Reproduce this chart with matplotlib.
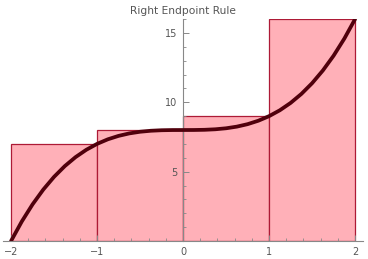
import matplotlib
matplotlib.use('Agg')
import matplotlib.pyplot as plt
from matplotlib.ticker import MultipleLocator

# rectangles (left edge, height at right endpoint)
rect_left = [-2, -1, 0, 1]
rect_height = [7, 8, 9, 16]

# curve points
curve_x = [-2, -1.875, -1.75, -1.625, -1.5, -1.375, -1.25, -1.125, -1,
           -0.875, -0.75, -0.625, -0.5, -0.375, -0.25, -0.125, 0,
           0.125, 0.25, 0.375, 0.5, 0.625, 0.75, 0.875, 1,
           1.125, 1.25, 1.375, 1.5, 1.625, 1.75, 1.875, 2]
curve_y = [0, 1.408, 2.641, 3.709, 4.625, 5.400, 6.047, 6.576, 7,
           7.330, 7.578, 7.756, 7.875, 7.947, 7.984, 7.998, 8,
           8.002, 8.016, 8.053, 8.125, 8.244, 8.422, 8.670, 9,
           9.424, 9.953, 10.600, 11.375, 12.291, 13.359, 14.592, 16]

x_ticks = [-2, -1, 0, 1, 2]
y_ticks = [5, 10, 15]

fig = plt.figure(figsize=(3.68, 2.59), dpi=100)
ax = fig.add_axes([0.009, 0.0695, 0.977, 0.857])

gray = '#888888'
ax.bar(rect_left, rect_height, width=1, align='edge',
       color='#ffb0b8', edgecolor='#ad1a36', linewidth=0.9, zorder=1)
ax.plot(curve_x, curve_y, color='#50000c', linewidth=2.7,
        solid_capstyle='round', zorder=3)

ax.set_xlim(-2.09, 2.09)
ax.set_ylim(0, 16)

ax.spines['left'].set_position(('data', 0))
ax.spines['bottom'].set_position(('data', 0))
ax.spines['top'].set_visible(False)
ax.spines['right'].set_visible(False)
for s in ['left', 'bottom']:
    ax.spines[s].set_color(gray)
    ax.spines[s].set_linewidth(0.8)
    ax.spines[s].set_zorder(2)

ax.set_xticks(x_ticks)
ax.set_yticks(y_ticks)
ax.xaxis.set_minor_locator(MultipleLocator(0.2))
ax.yaxis.set_minor_locator(MultipleLocator(1))
ax.tick_params(which='major', direction='in', length=4, width=0.7,
               color=gray, labelcolor='#555555', labelsize=7, pad=4)
ax.tick_params(which='minor', direction='in', length=2, width=0.6, color=gray)

ax.set_title('Right Endpoint Rule', fontsize=7.7, color='#555555', pad=3.5)

fig.savefig('out.png', dpi=100)
